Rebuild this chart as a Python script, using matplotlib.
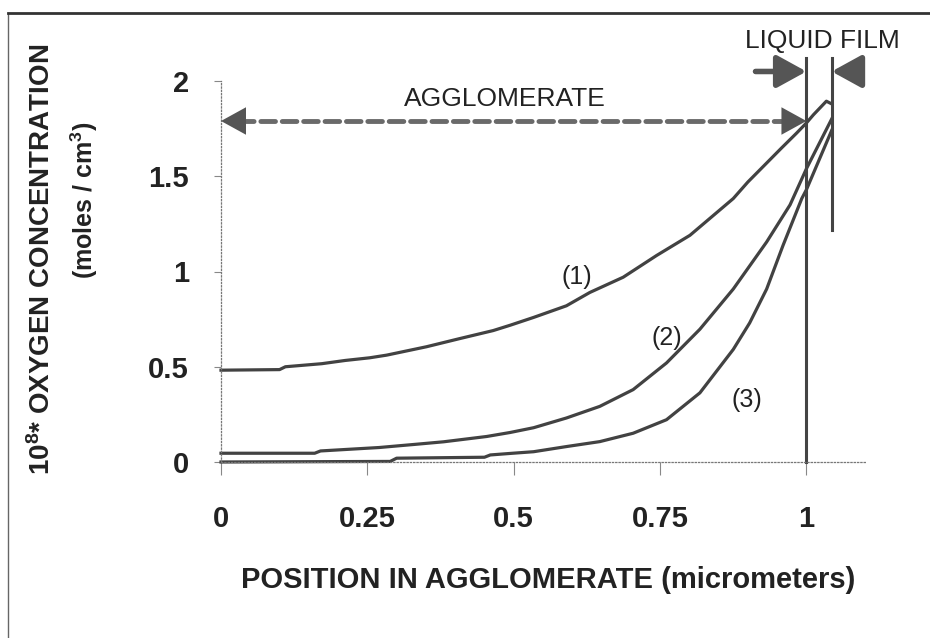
import matplotlib
matplotlib.use("Agg")
import matplotlib.pyplot as plt
from matplotlib.lines import Line2D

plt.rcParams['font.family'] = ['Liberation Sans', 'DejaVu Sans']
plt.rcParams['mathtext.fontset'] = 'custom'
plt.rcParams['mathtext.rm'] = 'Liberation Sans:bold'
plt.rcParams['mathtext.bf'] = 'Liberation Sans:bold'
plt.rcParams['mathtext.it'] = 'Liberation Sans:bold'

# ---------------- data ----------------
x_curve1 = [0.0, 0.10, 0.11, 0.172, 0.212, 0.254, 0.283, 0.351, 0.408, 0.465, 0.494,
            0.534, 0.59, 0.63, 0.687, 0.744, 0.801, 0.875, 0.90, 0.957, 0.983, 1.0,
            1.012, 1.034, 1.043]
y_curve1 = [0.482, 0.485, 0.50, 0.516, 0.533, 0.547, 0.561, 0.605, 0.648, 0.69, 0.718,
            0.759, 0.82, 0.89, 0.97, 1.084, 1.19, 1.383, 1.47, 1.647, 1.726, 1.78,
            1.823, 1.894, 1.88]

x_curve2 = [0.0, 0.16, 0.17, 0.27, 0.333, 0.38, 0.425, 0.454, 0.494, 0.534, 0.59, 0.647,
            0.704, 0.761, 0.818, 0.875, 0.932, 0.972, 1.0, 1.043]
y_curve2 = [0.046, 0.046, 0.058, 0.076, 0.093, 0.106, 0.123, 0.134, 0.155, 0.18, 0.231, 0.292,
            0.38, 0.52, 0.697, 0.908, 1.155, 1.35, 1.54, 1.80]

x_curve3 = [0.0, 0.289, 0.30, 0.45, 0.46, 0.494, 0.534, 0.59, 0.647, 0.704, 0.761, 0.818,
            0.875, 0.903, 0.932, 0.96, 0.992, 1.0, 1.043]
y_curve3 = [0.0, 0.003, 0.02, 0.025, 0.037, 0.045, 0.054, 0.081, 0.107, 0.151, 0.222, 0.363,
            0.591, 0.73, 0.908, 1.137, 1.383, 1.43, 1.74]

curve_labels = ['(1)', '(2)', '(3)']
curve_label_x = [0.607, 0.761, 0.898]
curve_label_y = [0.97, 0.653, 0.327]

x_ticks = [0, 0.25, 0.5, 0.75, 1]
x_tick_labels = ['0', '0.25', '0.5', '0.75', '1']
y_ticks = [0, 0.5, 1, 1.5, 2]
y_tick_labels = ['0', '0.5', '1', '1.5', '2']

film_start = 1.0
film_end = 1.043
agglom_arrow_y = 1.79
film_arrow_y = 2.05
line_top = 2.12
film_line_bottom = 1.216

# ---------------- figure ----------------
W, H = 930, 638
fig = plt.figure(figsize=(W / 100, H / 100), dpi=100)
ax = fig.add_axes([221 / W, (H - 462) / H, 644 / W, 381 / H])
ax.set_xlim(0, 1.1)
ax.set_ylim(0, 2)

curve_color = '#424242'
for xs, ys in [(x_curve1, y_curve1), (x_curve2, y_curve2), (x_curve3, y_curve3)]:
    ax.plot(xs, ys, color=curve_color, lw=2.3, clip_on=False, solid_joinstyle='round')

for lab, lx, ly in zip(curve_labels, curve_label_x, curve_label_y):
    ax.text(lx, ly, lab, fontsize=18, ha='center', va='center', color='#222')

# vertical boundary lines
ax.plot([film_start, film_start], [0, line_top], color='#444', lw=2.2, clip_on=False)
ax.plot([film_end, film_end], [film_line_bottom, line_top], color='#444', lw=2.2, clip_on=False)

# agglomerate dashed double arrow
ax.plot([0.03, film_start - 0.03], [agglom_arrow_y, agglom_arrow_y], ls=(0, (3, 1.4)),
        lw=3.5, color='#6a6a6a', clip_on=False, dash_capstyle='round')
for tip, tail in [(0.0, 0.05), (film_start, film_start - 0.05)]:
    ax.annotate('', xy=(tip, agglom_arrow_y), xytext=(tail, agglom_arrow_y),
                arrowprops=dict(arrowstyle='-|>,head_length=1.0,head_width=0.55',
                                mutation_scale=18, color='#555', lw=0,
                                shrinkA=0, shrinkB=0), annotation_clip=False)
ax.text(0.485, 1.905, 'AGGLOMERATE', fontsize=19, ha='center', va='center', color='#222')

# liquid film arrows
ax.annotate('', xy=(film_start, film_arrow_y), xytext=(0.913, film_arrow_y),
            arrowprops=dict(arrowstyle='-|>,head_length=1.0,head_width=0.55',
                            mutation_scale=18, color='#555', lw=4,
                            shrinkA=0, shrinkB=0), annotation_clip=False)
ax.annotate('', xy=(film_end, film_arrow_y), xytext=(1.092, film_arrow_y),
            arrowprops=dict(arrowstyle='-|>,head_length=1.0,head_width=0.55',
                            mutation_scale=18, color='#555', lw=4,
                            shrinkA=0, shrinkB=0), annotation_clip=False)
ax.text(1.027, 2.21, 'LIQUID FILM', fontsize=19, ha='center', va='center', color='#222')

# axes styling
for s in ['top', 'right']:
    ax.spines[s].set_visible(False)
for s in ['left', 'bottom']:
    ax.spines[s].set_linestyle(':')
    ax.spines[s].set_color('#777')
    ax.spines[s].set_linewidth(0.9)

ax.set_xticks(x_ticks)
ax.set_xticklabels(x_tick_labels, fontsize=21, fontweight='bold', color='#222')
ax.set_yticks(y_ticks)
ax.set_yticklabels(y_tick_labels, fontsize=21, fontweight='bold', color='#222')
ax.tick_params(axis='x', direction='out', length=9, width=0.8, color='#888', pad=22)
ax.tick_params(axis='y', direction='out', length=5, width=0.8, color='#888', pad=18)

# axis titles
fig.text(548 / W, 1 - 580 / H, 'POSITION IN AGGLOMERATE (micrometers)', ha='center',
         va='center', fontsize=21, fontweight='bold', color='#222')
fig.text(42 / W, 1 - 259 / H, r'10$^{8}$* OXYGEN CONCENTRATION', rotation=90,
         ha='center', va='center', fontsize=20, fontweight='bold', color='#222')
fig.text(84 / W, 1 - 200 / H, r'(moles / cm$^{3}$)', rotation=90,
         ha='center', va='center', fontsize=18, fontweight='bold', color='#222')

# figure border (scan frame)
fig.add_artist(Line2D([8 / W, 8 / W], [0, 1 - 13 / H], transform=fig.transFigure,
                      color='#666', lw=1.0))
fig.add_artist(Line2D([8 / W, 1], [1 - 13 / H, 1 - 13 / H], transform=fig.transFigure,
                      color='#333', lw=2.0))

fig.savefig('out.png', dpi=100)
